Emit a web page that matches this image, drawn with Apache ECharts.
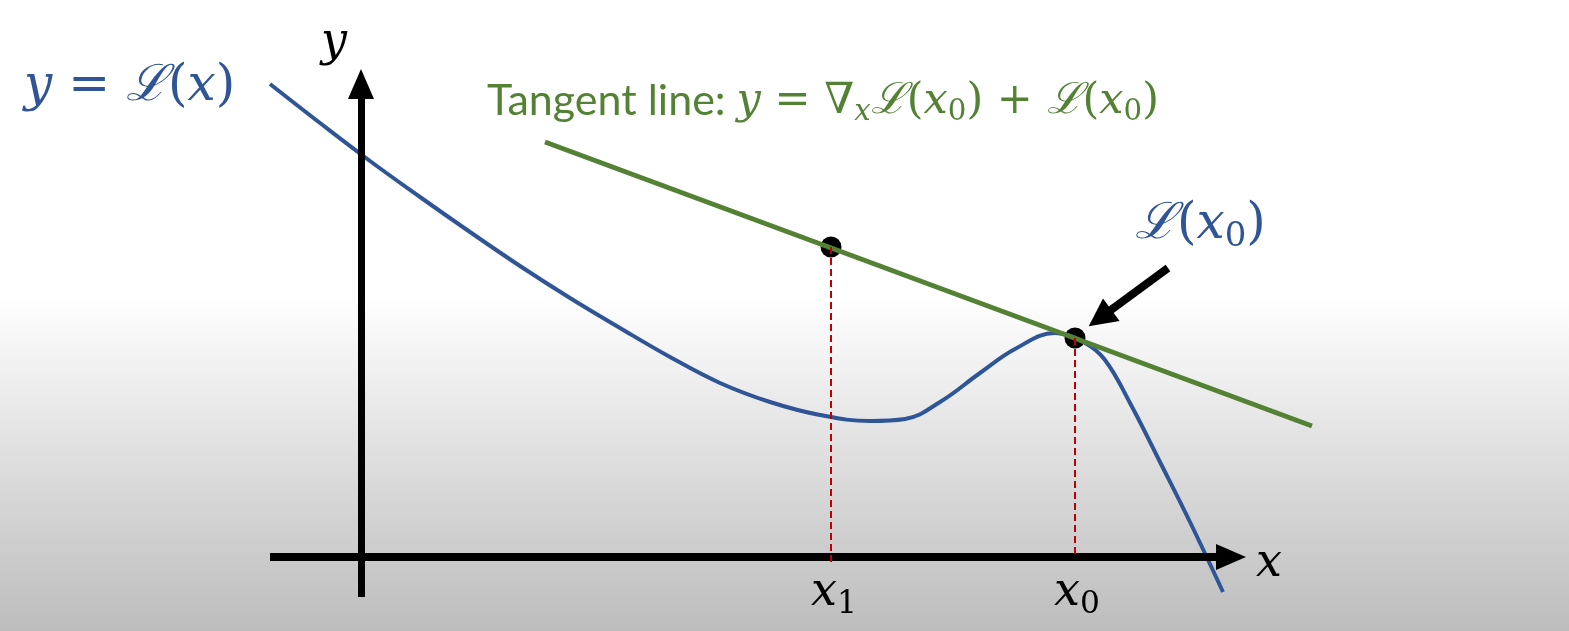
<!DOCTYPE html>
<html>
<head>
<meta charset="utf-8">
<script src="https://cdn.jsdelivr.net/npm/echarts@6/dist/echarts.min.js"></script>
<style>
html,body{margin:0;padding:0;width:100%;height:100%;overflow:hidden;}
#main{width:1569px;height:631px;}
</style>
</head>
<body>
<div id="main"></div>
<script>
// Diagram coordinates: origin at the axes' crossing, y upwards.
const curveX = [-91, -41, 9, 59, 109, 159, 209, 259, 309, 359, 409, 459, 509, 544, 579, 619, 654, 694, 724, 744, 769, 799, 829, 862];
const curveY = [473, 434, 396, 360, 325, 291, 259, 229, 200, 174, 155, 142, 136, 138, 155, 184, 208, 224, 214, 197, 154, 95, 35, -35];
const tangentX = [184, 951];
const tangentY = [415, 131];
const pointX = [470, 714];        // x1, x0
const pointY = [310, 219];        // point on tangent at x1, L(x0)
const dropBottom = [-8, 0];       // bottom of the dashed drop lines
const xAxisSpan = [-91, 870];
const yAxisSpan = [-40, 473];
const arrowFrom = [807, 289];
const arrowTo = [739, 239];

const BLUE = '#2F5597', GREEN = '#548235', RED = '#C00000';

const chart = echarts.init(document.getElementById('main'), null, {renderer: 'canvas'});

const serif = '"DejaVu Serif", "Liberation Serif", serif';
const mathRich = (size, sansSize) => ({
  it: {fontFamily: serif, fontStyle: 'italic', fontSize: size, lineHeight: size + 8, verticalAlign: 'middle'},
  rm: {fontFamily: serif, fontSize: size, lineHeight: size + 8, verticalAlign: 'middle'},
  sc: {fontFamily: serif, fontStyle: 'italic', fontSize: size, lineHeight: size + 8, verticalAlign: 'middle'},
  sub: {fontFamily: serif, fontSize: size * 0.68, lineHeight: size * 0.45, verticalAlign: 'bottom'},
  subit: {fontFamily: serif, fontStyle: 'italic', fontSize: size * 0.68, lineHeight: size * 0.45, verticalAlign: 'bottom'},
  sans: {fontFamily: 'Lato, "Open Sans", sans-serif', fontSize: sansSize || size, lineHeight: size + 8, verticalAlign: 'middle'}
});

const option = {
  animation: false,
  backgroundColor: new echarts.graphic.LinearGradient(0, 0, 0, 1, [
    {offset: 0, color: '#ffffff'},
    {offset: 0.47, color: '#ffffff'},
    {offset: 0.62, color: '#ececec'},
    {offset: 0.8, color: '#d5d5d5'},
    {offset: 1, color: '#bdbdbd'}
  ]),
  grid: {left: 0, right: 0, top: 0, bottom: 0},
  xAxis: {type: 'value', min: -361, max: 1208, show: false},
  yAxis: {type: 'value', min: -74, max: 557, show: false},
  series: [
    {
      type: 'line', name: 'axes', data: [], silent: true,
      markLine: {
        silent: true, animation: false,
        symbol: ['none', 'triangle'], symbolSize: [26, 30],
        label: {show: false},
        lineStyle: {color: '#000', type: 'solid'},
        data: [
          [{coord: [xAxisSpan[0], 0], lineStyle: {width: 8}}, {coord: [xAxisSpan[1], 0]}],
          [{coord: [0, yAxisSpan[0]], lineStyle: {width: 7}}, {coord: [0, yAxisSpan[1]]}]
        ]
      }
    },
    {
      type: 'line', name: 'drops', data: [], silent: true,
      markLine: {
        silent: true, animation: false, symbol: ['none', 'none'],
        label: {show: false},
        lineStyle: {color: RED, type: [7, 4], width: 2},
        data: pointX.map((px, i) => [{coord: [px, pointY[i]]}, {coord: [px, dropBottom[i]]}])
      }
    },
    {
      type: 'line', name: 'L(x)', smooth: 0.4, showSymbol: false, silent: true,
      lineStyle: {color: BLUE, width: 4},
      data: curveX.map((x, i) => [x, curveY[i]])
    },
    {
      type: 'line', name: 'tangent', showSymbol: false, silent: true,
      lineStyle: {color: GREEN, width: 5},
      data: tangentX.map((x, i) => [x, tangentY[i]])
    },
    {
      type: 'scatter', name: 'points', symbolSize: 21, silent: true,
      itemStyle: {color: '#000', opacity: 1},
      data: pointX.map((x, i) => [x, pointY[i]])
    },
    {
      type: 'line', name: 'pointer', data: [], silent: true,
      markLine: {
        silent: true, animation: false,
        symbol: ['none', 'triangle'], symbolSize: [28, 28],
        label: {show: false},
        lineStyle: {color: '#000', type: 'solid', width: 8},
        data: [[{coord: arrowFrom}, {coord: arrowTo}]]
      }
    }
  ],
  graphic: [
    {type: 'text', left: 24, top: 62, style: {
      text: '{it|y}{rm| = }{sc|ℒ}{rm|(}{it|x}{rm|)}', fill: BLUE, rich: mathRich(50)}},
    {type: 'text', left: 321, top: 20, style: {
      text: '{it|y}', fill: '#000', rich: mathRich(46)}},
    {type: 'text', left: 487, top: 80, style: {
      text: '{sans|Tangent line: }{it|y}{rm| = ∇}{subit|x}{sc|ℒ}{rm|(}{it|x}{sub|0}{rm|) + }{sc|ℒ}{rm|(}{it|x}{sub|0}{rm|)}',
      fill: GREEN, rich: mathRich(43, 43)}},
    {type: 'text', left: 1135, top: 200, style: {
      text: '{sc|ℒ}{rm|(}{it|x}{sub|0}{rm|)}', fill: BLUE, rich: mathRich(50)}},
    {type: 'text', left: 1256, top: 541, style: {
      text: '{it|x}', fill: '#000', rich: mathRich(46)}},
    {type: 'text', left: 811, top: 570, style: {
      text: '{it|x}{sub|1}', fill: '#000', rich: mathRich(46)}},
    {type: 'text', left: 1054, top: 570, style: {
      text: '{it|x}{sub|0}', fill: '#000', rich: mathRich(46)}}
  ]
};
chart.setOption(option);
</script>
</body>
</html>
